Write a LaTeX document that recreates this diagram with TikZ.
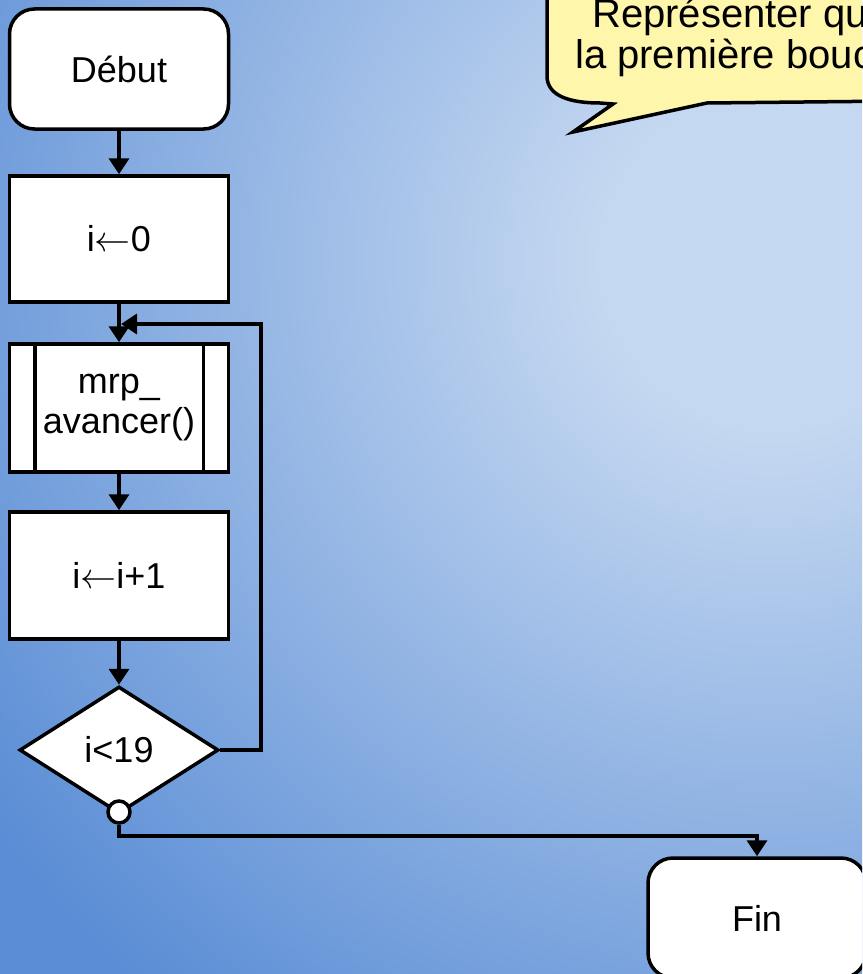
\RequirePackage{fix-cm}
\documentclass[tikz,border=0pt]{standalone}
\usepackage{fontspec}
\setmainfont{Liberation Sans}
\usetikzlibrary{arrows.meta,shapes.geometric,calc}
\definecolor{bgin}{HTML}{C5D8F1}
\definecolor{bgout}{HTML}{5A8DD5}
\definecolor{note}{HTML}{FEF6AA}
\pgfdeclareradialshading{bgshade}{\pgfpoint{0bp}{0bp}}{color(0bp)=(bgin); color(3.5bp)=(bgin); color(20bp)=(bgout); color(50bp)=(bgout)}
\newcommand{\lar}{\(\leftarrow\)}
\begin{document}
\begin{tikzpicture}[x=1pt,y=-1pt,
  txt/.style={font=\fontsize{36}{40}\selectfont},
  bigtxt/.style={font=\fontsize{40}{41}\selectfont},
  box/.style={draw, line width=3.5pt, fill=white, minimum width=219pt, inner sep=0pt, align=center, txt},
  term/.style={box, rounded corners=25pt},
  cond/.style={draw, line width=3.5pt, fill=white, shape=diamond, minimum width=199pt, minimum height=127pt, inner sep=0pt, txt},
  conn/.style={line width=3.5pt, -{Triangle[length=16pt,width=20pt]}},
  plain/.style={line width=3.5pt}]
\useasboundingbox (0,0) rectangle (862,974);
\clip (0,0) rectangle (862,974);
\shade[shading=bgshade] (770,260) circle (1200);
% callout
\draw[fill=note, line width=3.5pt, line join=miter] (547,-60) -- (547,76) .. controls (547,96) and (570,103) .. (600,103) -- (613,104) -- (573,132) -- (707,103) -- (900,101) -- (900,-60) -- cycle;
\node[bigtxt, anchor=base west, inner sep=0pt] (c1) at (592,28) {Représenter qu};
\node[bigtxt, anchor=base west, inner sep=0pt] (c2) at (575,68) {la première bouc};
% nodes
\node[term, minimum height=120pt] (debut) at (119,69) {Début};
\node[box, minimum height=126pt] (init) at (119,239) {i\lar0};
\node[box, minimum height=128pt] (mrp) at (119,408) {mrp\_\\avancer()};
\draw[plain] ($(mrp.north west)+(27,0)$) -- ($(mrp.south west)+(27,0)$);
\draw[plain] ($(mrp.north east)+(-27,0)$) -- ($(mrp.south east)+(-27,0)$);
\node[box, minimum height=127pt] (incr) at (119,575.5) {i\lar i+1};
\node[cond] (test) at (119,750) {i<19};
\node[term, minimum width=218pt, minimum height=120pt] (fin) at (757,918) {Fin};
% connectors
\draw[conn] (debut) -- (init);
\draw[conn] (init) -- (mrp);
\draw[conn] (mrp) -- (incr);
\draw[conn] (incr) -- (test);
\coordinate (lp) at (261,324);
\coordinate (lpend) at (121,324);
\draw[conn] (test.east) -- (test.east -| lp) -- (lp) -- (lpend);
\node[draw, line width=3.5pt, fill=white, circle, minimum size=22pt, inner sep=0pt] (circ) at (119,812) {};
\coordinate (turn) at (119,836);
\draw[conn] (circ) -- (turn) -| (fin);
\end{tikzpicture}
\end{document}
